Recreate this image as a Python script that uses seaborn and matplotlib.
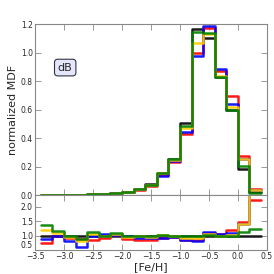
"""
Normalized MDF histograms for five runs (top) and their ratio to the black run (bottom).
"""
import numpy as np
import pandas as pd
import matplotlib
matplotlib.use('Agg')
import matplotlib.pyplot as plt
import seaborn as sns

# bin edges in [Fe/H], 0.2 dex wide
edges = [-3.4, -3.2, -3.0, -2.8, -2.6, -2.4, -2.2, -2.0, -1.8, -1.6,
         -1.4, -1.2, -1.0, -0.8, -0.6, -0.4, -0.2, 0.0, 0.2, 0.4]

# normalized MDF per bin
mdf_black = [0.003, 0.003, 0.004, 0.004, 0.005, 0.006, 0.012, 0.023, 0.045, 0.075,
             0.152, 0.253, 0.503, 1.163, 1.100, 0.830, 0.600, 0.183, 0.024]
mdf_red = [0.002, 0.003, 0.004, 0.004, 0.004, 0.005, 0.012, 0.020, 0.038, 0.065,
           0.141, 0.232, 0.430, 1.000, 1.170, 0.872, 0.693, 0.271, 0.045]
mdf_blue = [0.003, 0.003, 0.003, 0.002, 0.005, 0.006, 0.012, 0.022, 0.042, 0.068,
            0.137, 0.240, 0.440, 0.978, 1.188, 0.882, 0.639, 0.252, 0.034]
mdf_yellow = [0.004, 0.003, 0.004, 0.003, 0.005, 0.006, 0.013, 0.022, 0.044, 0.071,
              0.155, 0.248, 0.470, 1.065, 1.130, 0.835, 0.615, 0.255, 0.036]
mdf_green = [0.004, 0.003, 0.004, 0.004, 0.006, 0.006, 0.013, 0.023, 0.045, 0.074,
             0.156, 0.253, 0.486, 1.144, 1.140, 0.828, 0.599, 0.204, 0.014]

# ratio to the black run per bin
ratio_black = [1.0] * 19
ratio_red = [0.75, 0.97, 0.90, 0.88, 0.85, 0.90, 1.03, 0.88, 0.85, 0.86,
             0.93, 0.95, 0.86, 0.86, 1.10, 1.05, 1.19, 1.47, 2.23]
ratio_blue = [0.87, 0.98, 0.82, 0.62, 0.97, 1.06, 1.02, 0.97, 0.93, 0.90,
              0.90, 0.95, 0.84, 0.82, 1.12, 1.07, 1.10, 1.40, 2.60]
ratio_yellow = [1.18, 1.10, 0.95, 0.80, 1.04, 1.00, 1.05, 0.95, 0.97, 0.95,
                1.02, 0.98, 0.90, 0.90, 1.05, 1.00, 1.02, 1.40, 2.60]
ratio_green = [1.38, 1.16, 1.00, 0.88, 1.12, 1.00, 1.08, 1.00, 1.00, 0.98,
               1.03, 1.00, 0.97, 0.98, 1.03, 1.00, 1.00, 1.12, 1.23]

runs = ['black', 'red', 'blue', 'yellow', 'green']
colors = {'black': 'black', 'red': '#ff0000', 'blue': '#0000ff',
          'yellow': '#ffcc00', 'green': '#008000'}
mdfs = dict(zip(runs, [mdf_black, mdf_red, mdf_blue, mdf_yellow, mdf_green]))
ratios = dict(zip(runs, [ratio_black, ratio_red, ratio_blue, ratio_yellow, ratio_green]))


def long_form(series):
    # repeat the last value so steps-post closes the final bin
    rows = []
    for run in runs:
        vals = list(series[run]) + [series[run][-1]]
        for x, v in zip(edges, vals):
            rows.append({'feh': x, 'val': v, 'run': run})
    return pd.DataFrame(rows)


sns.set_style('ticks')
plt.rcParams['font.family'] = ['DejaVu Sans']
spine_c = '#888888'

fig = plt.figure(figsize=(2.74, 2.74), dpi=100)
ax = fig.add_axes([0.128, 0.288, 0.846, 0.624])
axr = fig.add_axes([0.128, 0.0876, 0.846, 0.2004], sharex=ax)

sns.lineplot(data=long_form(mdfs), x='feh', y='val', hue='run', palette=colors,
             hue_order=runs, drawstyle='steps-post', lw=1.8, alpha=0.9,
             legend=False, ax=ax)
sns.lineplot(data=long_form(ratios), x='feh', y='val', hue='run', palette=colors,
             hue_order=runs, drawstyle='steps-post', lw=1.8, alpha=0.9,
             legend=False, ax=axr)

ax.set_xlim(-3.5, 0.5)
ax.set_ylim(0, 1.2)
axr.set_ylim(0.5, 2.4)
ax.set_yticks(np.arange(0, 1.21, 0.2))
ax.set_yticklabels([f'{t:.1f}' for t in np.arange(0, 1.21, 0.2)])
axr.set_yticks([0.5, 1.0, 1.5, 2.0])
axr.set_yticklabels(['0.5', '1.0', '1.5', '2.0'])
axr.set_xticks(np.arange(-3.5, 0.51, 0.5))
ax.tick_params(labelbottom=False)

for a in (ax, axr):
    for s in a.spines.values():
        s.set_visible(True)
        s.set_color(spine_c)
        s.set_linewidth(0.8)
    a.tick_params(direction='in', length=4, width=0.6, color=spine_c,
                  labelsize=5.5, pad=1.5, top=True, right=True)
# lift the lowest ratio label so it clears the -3.5 tick label
axr.get_yticklabels()[0].set_va('bottom')

ax.set_xlabel('')
ax.set_ylabel('normalized MDF', fontsize=8, labelpad=2)
axr.set_ylabel('')
axr.set_xlabel('[Fe/H]', fontsize=8, labelpad=1)

ax.text(-2.98, 0.895, 'dB', fontsize=8, ha='center', va='center',
        bbox=dict(boxstyle='round,pad=0.3', fc='#e6e6fa', ec='#333344', lw=0.8))

plt.savefig('out.png', dpi=100)
plt.close()
